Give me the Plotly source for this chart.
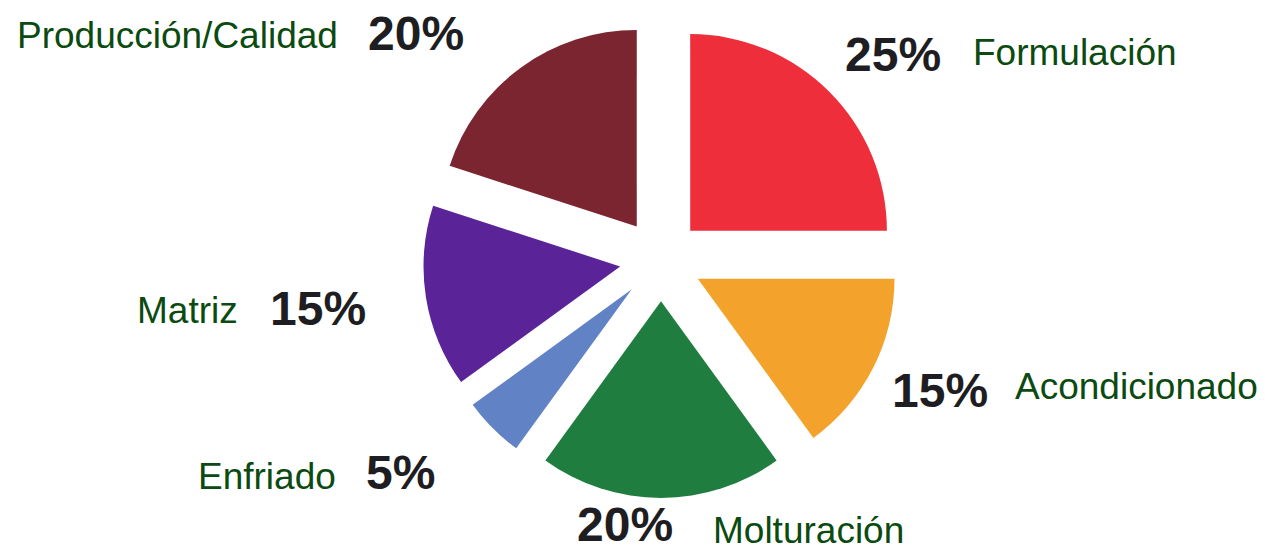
import plotly.graph_objects as go

# Share of each stage (percent), clockwise from 12 o'clock
stages = ["Formulación", "Acondicionado", "Molturación", "Enfriado", "Matriz", "Producción/Calidad"]
shares = [25, 15, 20, 5, 15, 20]
slice_colors = ["#EF2E3B", "#F3A32B", "#1F7D3F", "#6183C6", "#5A2398", "#7B2530"]

W, H = 1267, 550

# Label placement in pixels: (name centre, percentage centre)
label_px = {
    "Formulación": ((1075, 53), (893, 55)),
    "Acondicionado": ((1136, 386), (940, 390)),
    "Molturación": ((808, 530), (625, 524)),
    "Enfriado": ((267, 476), (401, 472)),
    "Matriz": ((187, 310), (318, 308)),
    "Producción/Calidad": ((178, 36), (416, 34)),
}

# Pie domain: square of 476 px centred at (661, 260)
cx, cy, half = 661, 260, 238
dom_x = [(cx - half) / W, (cx + half) / W]
dom_y = [1 - (cy + half) / H, 1 - (cy - half) / H]

fig = go.Figure(
    go.Pie(
        labels=stages,
        values=shares,
        sort=False,
        direction="clockwise",
        rotation=0,
        pull=[0.21] * len(stages),
        marker=dict(colors=slice_colors, line=dict(width=0)),
        textinfo="none",
        showlegend=False,
        domain=dict(x=dom_x, y=dom_y),
    )
)

annotations = []
for name, val in zip(stages, shares):
    (nx, ny), (px, py) = label_px[name]
    annotations.append(dict(
        x=nx / W, y=1 - ny / H, xref="paper", yref="paper",
        text=name, showarrow=False, xanchor="center", yanchor="middle",
        font=dict(family="Liberation Sans, Arial, sans-serif", size=37, color="#0B4A10"),
    ))
    annotations.append(dict(
        x=px / W, y=1 - py / H, xref="paper", yref="paper",
        text=f"<b>{val}%</b>", showarrow=False, xanchor="center", yanchor="middle",
        font=dict(family="Liberation Sans, Arial, sans-serif", size=48, color="#1E1E22"),
    ))

fig.update_layout(
    width=W, height=H,
    margin=dict(l=0, r=0, t=0, b=0),
    paper_bgcolor="white",
    plot_bgcolor="white",
    annotations=annotations,
)

fig.write_html("out.html")
